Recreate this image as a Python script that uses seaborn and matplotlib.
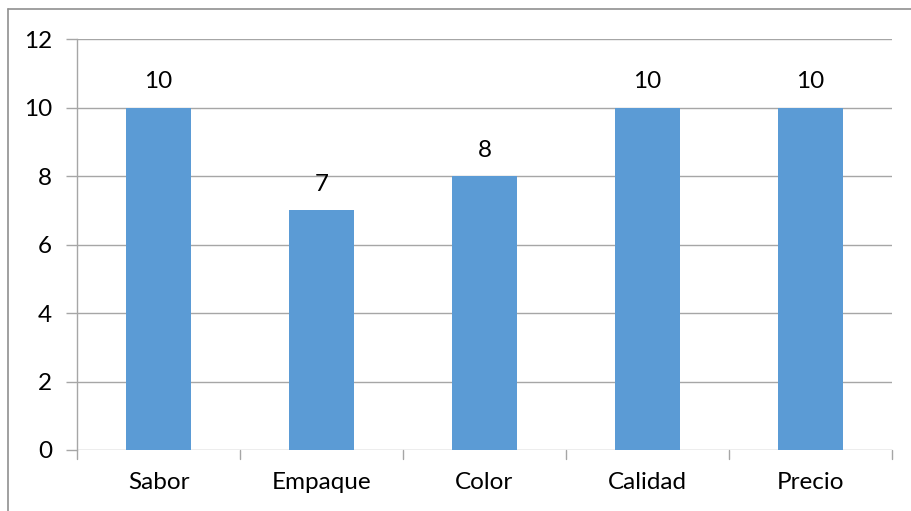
import matplotlib
matplotlib.use("Agg")
import matplotlib.pyplot as plt
import seaborn as sns
import pandas as pd
from matplotlib.lines import Line2D

categories = ["Sabor", "Empaque", "Color", "Calidad", "Precio"]
values = [10, 7, 8, 10, 10]
yticks = [0, 2, 4, 6, 8, 10, 12]

sns.set_theme(style="white")
plt.rcParams['font.family'] = ['Lato', 'DejaVu Sans']

df = pd.DataFrame({"cat": categories, "val": values})

fig = plt.figure(figsize=(9.11, 5.11), dpi=100)
ax = fig.add_axes([77/911, 1-450/511, (892-77)/911, (450-39)/511])

sns.barplot(data=df, x="cat", y="val", color="#5B9BD5", width=0.4,
            saturation=1, linewidth=0, ax=ax, zorder=3)

grid_c = "#A6A6A6"
fs = 17.5
ax.set_ylim(0, 12)
ax.set_xlim(-0.5, len(categories) - 0.5)
ax.set_yticks(yticks)
ax.set_yticklabels([str(t) for t in yticks], fontsize=fs, color="black")
for t in yticks:
    ax.axhline(t, color=grid_c, lw=1.0, zorder=1)
ax.set_xticks(range(len(categories)))
ax.set_xticklabels(categories, fontsize=fs, color="black")
ax.tick_params(axis="x", length=0, pad=16)
ax.tick_params(axis="y", length=8, color=grid_c, width=1.0, pad=10, left=True)
# category boundary tick marks
for b in [i - 0.5 for i in range(len(categories) + 1)]:
    ax.plot([b, b], [0, -0.25], color=grid_c, lw=1.0, clip_on=False, zorder=2)

for s in ["top", "right", "bottom"]:
    ax.spines[s].set_visible(False)
ax.spines["left"].set_color(grid_c)
ax.spines["left"].set_linewidth(1.0)
ax.set_xlabel("")
ax.set_ylabel("")

for i, v in enumerate(values):
    ax.text(i, v + 0.45, str(v), ha="center", va="bottom", fontsize=fs, color="black")

# outer chart border (top and left visible)
fig.add_artist(Line2D([8/911, 8/911], [0, 1-9/511], transform=fig.transFigure, color="#909090", lw=1.2))
fig.add_artist(Line2D([8/911, 1], [1-9/511, 1-9/511], transform=fig.transFigure, color="#909090", lw=1.2))

fig.savefig("out.png", dpi=100)
